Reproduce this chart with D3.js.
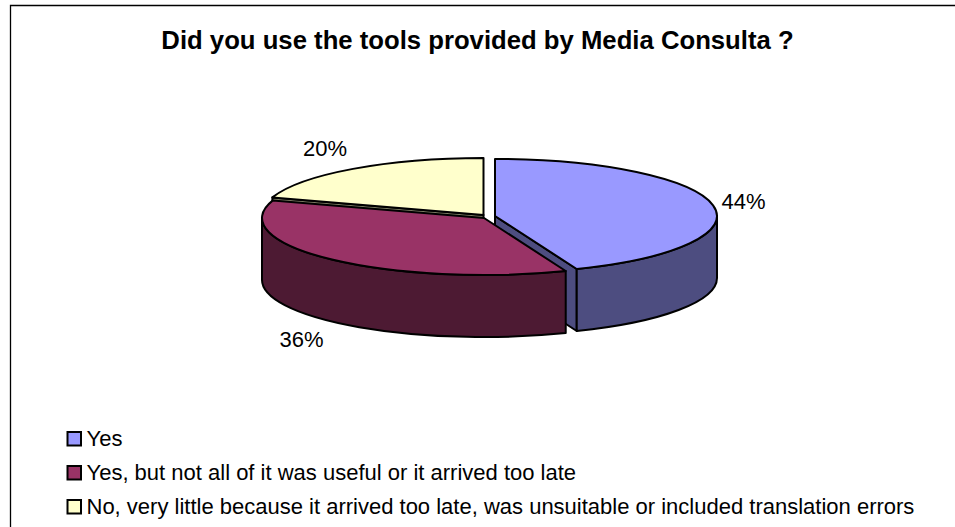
<!DOCTYPE html>
<html>
<head>
<meta charset="utf-8">
<script src="https://cdn.jsdelivr.net/npm/d3@7/dist/d3.min.js"></script>
<style>
  html, body { margin: 0; padding: 0; background: #fff; }
  svg { display: block; }
  text { font-family: "Liberation Sans", Arial, sans-serif; fill: #000; }
</style>
</head>
<body>
<script>
// Survey answers
const chartTitle = "Did you use the tools provided by Media Consulta ?";
const categories = [
  "Yes",
  "Yes, but not all of it was useful or it arrived too late",
  "No, very little because it arrived too late, was unsuitable or included translation errors"
];
const shares = [44, 36, 20];
const topColors = ["#9999FF", "#993366", "#FFFFCC"];
const sideColors = ["#4D4D80", "#4D1A33", "#808066"];

const width = 955, height = 527;
const rx = 222, ry = 57, depth = 62;

// Each slice is pulled a little away from the others
const sliceCentres = [[495, 216], [484, 218], [483.5, 215]];
const labelAnchors = [[743.5, 209], [301.5, 347], [325, 156]];

const svg = d3.select("body").append("svg")
  .attr("width", width).attr("height", height);

// Open frame: only the left and top edges are ruled
svg.append("path")
  .attr("d", d3.line()([[10.5, height], [10.5, 5.5], [width, 5.5]]))
  .attr("fill", "none").attr("stroke", "#000").attr("stroke-width", 1.3);

svg.append("text")
  .attr("x", 477.5).attr("y", 49)
  .attr("text-anchor", "middle")
  .attr("font-size", 25.7).attr("font-weight", "bold")
  .text(chartTitle);

const pie = d3.pie().sort(null).value(d => d);
const arcs = pie(shares);

// Angles run clockwise from twelve o'clock on a tilted disc
const project = (c, a, drop = 0) =>
  [c[0] + rx * Math.sin(a), c[1] - ry * Math.cos(a) + drop];
const pt = p => `${p[0]},${p[1]}`;

function topFace(c, a0, a1) {
  const large = a1 - a0 > Math.PI ? 1 : 0;
  return `M${pt(c)}L${pt(project(c, a0))}A${rx},${ry} 0 ${large} 1 ${pt(project(c, a1))}Z`;
}
// Outer rim between two angles, a0 < a1
function rimFace(c, a0, a1) {
  return `M${pt(project(c, a0))}A${rx},${ry} 0 0 1 ${pt(project(c, a1))}` +
    `L${pt(project(c, a1, depth))}A${rx},${ry} 0 0 0 ${pt(project(c, a0, depth))}Z`;
}
// Flat wall left exposed along a cut edge
function cutFace(c, a) {
  const e = project(c, a);
  return `M${pt(c)}L${pt(e)}L${e[0]},${e[1] + depth}L${c[0]},${c[1] + depth}Z`;
}

const pieLayer = svg.append("g")
  .attr("stroke", "#000").attr("stroke-width", 2).attr("stroke-linejoin", "round");
const face = (d, fill) => pieLayer.append("path").attr("d", d).attr("fill", fill);

const [blue, maroon, yellow] = arcs;
const quarter = Math.PI / 2;

// Painted back to front
face(cutFace(sliceCentres[2], yellow.startAngle), sideColors[2]);
face(topFace(sliceCentres[2], yellow.startAngle, yellow.endAngle), topColors[2]);

face(cutFace(sliceCentres[0], blue.endAngle), sideColors[0]);
face(rimFace(sliceCentres[0], quarter, blue.endAngle), sideColors[0]);
face(topFace(sliceCentres[0], blue.startAngle, blue.endAngle), topColors[0]);

face(rimFace(sliceCentres[1], maroon.startAngle, 3 * quarter), sideColors[1]);
face(topFace(sliceCentres[1], maroon.startAngle, maroon.endAngle), topColors[1]);

// Percentage labels
svg.append("g").selectAll("text").data(arcs).join("text")
  .attr("x", (d, i) => labelAnchors[i][0])
  .attr("y", (d, i) => labelAnchors[i][1])
  .attr("text-anchor", "middle")
  .attr("font-size", 22)
  .text(d => `${d.data}%`);

// Legend
const legendY = d3.scalePoint().domain(d3.range(categories.length)).range([446, 514]);
const legend = svg.append("g").selectAll("g").data(categories).join("g")
  .attr("transform", (d, i) => `translate(0,${legendY(i)})`);
legend.append("rect")
  .attr("x", 67.5).attr("y", -14).attr("width", 13.5).attr("height", 13.5)
  .attr("fill", (d, i) => topColors[i])
  .attr("stroke", "#000").attr("stroke-width", 2);
legend.append("text")
  .attr("x", 86.5).attr("y", 0)
  .attr("font-size", 22)
  .text(d => d);
</script>
</body>
</html>
